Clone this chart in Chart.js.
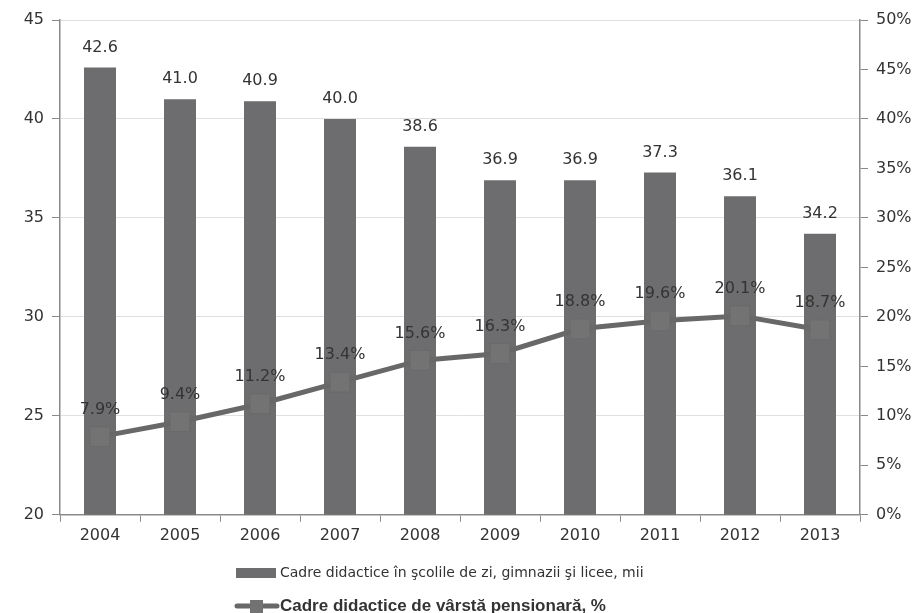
<!DOCTYPE html>
<html>
<head>
<meta charset="utf-8">
<script src="https://cdn.jsdelivr.net/npm/chart.js@4/dist/chart.umd.min.js"></script>
<style>
  html, body { margin: 0; padding: 0; background: #fff; }
  #wrap { width: 918px; height: 613px; }
</style>
</head>
<body>
<div id="wrap"><canvas id="chart" width="918" height="613"></canvas></div>
<script>
var YEARS = ['2004', '2005', '2006', '2007', '2008', '2009', '2010', '2011', '2012', '2013'];
var TEACHERS = [42.6, 41.0, 40.9, 40.0, 38.6, 36.9, 36.9, 37.3, 36.1, 34.2];
var PENSION_AGE = [7.9, 9.4, 11.2, 13.4, 15.6, 16.3, 18.8, 19.6, 20.1, 18.7];
var LABEL_BARS = 'Cadre didactice în şcolile de zi, gimnazii şi licee, mii';
var LABEL_LINE = 'Cadre didactice de vârstă pensionară, %';

var BAR_COLOR = '#6d6d6f';
var LINE_COLOR = '#686868';
var TEXT_COLOR = '#333333';
var FONT = '"DejaVu Sans", Verdana, sans-serif';

// value labels above bars and points
var valueLabels = {
  id: 'valueLabels',
  afterDatasetsDraw: function (chart) {
    var ctx = chart.ctx;
    ctx.save();
    ctx.font = '16px ' + FONT;
    ctx.fillStyle = TEXT_COLOR;
    ctx.textAlign = 'center';
    ctx.textBaseline = 'middle';
    chart.data.datasets.forEach(function (ds, di) {
      var meta = chart.getDatasetMeta(di);
      meta.data.forEach(function (el, i) {
        var v = ds.data[i];
        if (ds.type === 'line') {
          ctx.fillText(v.toFixed(1) + '%', el.x, el.y - 27);
        } else {
          ctx.fillText(v.toFixed(1), el.x, el.y - 20);
        }
      });
    });
    ctx.restore();
  }
};

// two stacked legend rows at the bottom
var stackedLegend = {
  id: 'stackedLegend',
  afterDraw: function (chart) {
    var ctx = chart.ctx;
    ctx.save();
    ctx.fillStyle = BAR_COLOR;
    ctx.fillRect(236, 568, 40, 10);
    ctx.fillStyle = TEXT_COLOR;
    ctx.font = '14px ' + FONT;
    ctx.textBaseline = 'middle';
    ctx.fillText(LABEL_BARS, 280, 573);

    ctx.strokeStyle = LINE_COLOR;
    ctx.lineWidth = 5;
    ctx.lineCap = 'round';
    ctx.beginPath();
    ctx.moveTo(237, 606);
    ctx.lineTo(277, 606);
    ctx.stroke();
    ctx.fillStyle = '#727272';
    ctx.fillRect(250, 600, 13, 13);
    ctx.fillStyle = TEXT_COLOR;
    ctx.font = 'bold 17px "Liberation Sans", Arial, sans-serif';
    ctx.fillText(LABEL_LINE, 280, 606);
    ctx.restore();
  }
};

new Chart(document.getElementById('chart'), {
  data: {
    labels: YEARS,
    datasets: [
      {
        type: 'line',
        label: LABEL_LINE,
        data: PENSION_AGE,
        yAxisID: 'y1',
        order: 1,
        borderColor: LINE_COLOR,
        borderWidth: 5,
        pointStyle: 'rect',
        pointRadius: 14,
        pointBackgroundColor: '#737373',
        pointBorderColor: '#6a6a6a',
        pointBorderWidth: 1,
        tension: 0
      },
      {
        type: 'bar',
        label: LABEL_BARS,
        data: TEACHERS,
        yAxisID: 'y',
        order: 2,
        backgroundColor: BAR_COLOR,
        categoryPercentage: 1.0,
        barPercentage: 0.4
      }
    ]
  },
  options: {
    responsive: false,
    animation: false,
    layout: { padding: { top: 20, bottom: 64, left: 0, right: 0 } },
    plugins: {
      legend: { display: false },
      tooltip: { enabled: false }
    },
    scales: {
      x: {
        offset: true,
        grid: {
          offset: true,
          drawOnChartArea: false,
          tickLength: 7,
          color: '#8a8a8a'
        },
        border: { color: '#8a8a8a', width: 1.5 },
        ticks: { color: TEXT_COLOR, font: { family: FONT, size: 16 }, padding: 4 }
      },
      y: {
        position: 'left',
        min: 20,
        max: 45,
        afterFit: function (s) { s.width = 60; },
        ticks: { stepSize: 5, color: TEXT_COLOR, font: { family: FONT, size: 16 }, padding: 8 },
        grid: { color: '#e0e0e0', tickLength: 8, tickColor: '#8a8a8a' },
        border: { color: '#8a8a8a', width: 1.5 }
      },
      y1: {
        position: 'right',
        min: 0,
        max: 50,
        afterFit: function (s) { s.width = 58; },
        ticks: {
          stepSize: 5,
          color: TEXT_COLOR,
          font: { family: FONT, size: 16 },
          padding: 8,
          callback: function (v) { return v + '%'; }
        },
        grid: { drawOnChartArea: false, tickLength: 8, color: '#8a8a8a' },
        border: { color: '#8a8a8a', width: 1.5 }
      }
    }
  },
  plugins: [valueLabels, stackedLegend]
});
</script>
</body>
</html>
